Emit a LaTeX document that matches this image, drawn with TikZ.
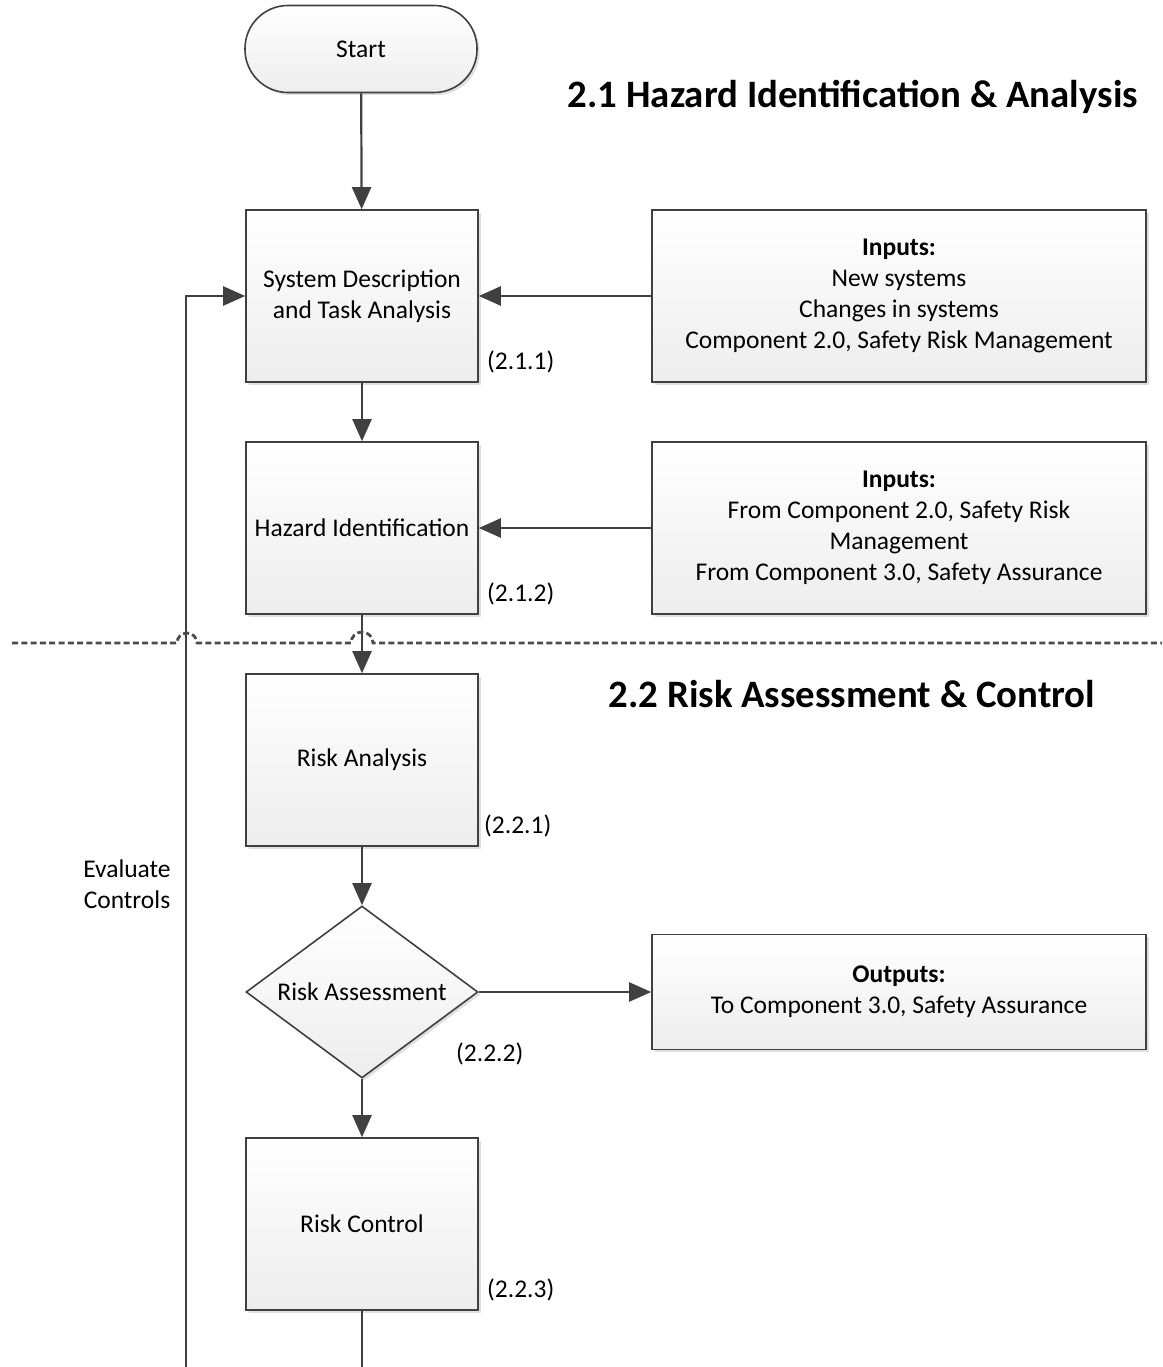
\documentclass[tikz,border=0pt]{standalone}
\usepackage{fontspec}
\setmainfont{Carlito}
\usetikzlibrary{arrows.meta,shapes.geometric,shadows}

\definecolor{linegray}{HTML}{404040}
\definecolor{boxgray}{HTML}{EDEDED}
\definecolor{dotgray}{HTML}{4A4A4A}

\tikzset{
  boxbase/.style={draw=linegray, line width=1.6pt, top color=white, bottom color=boxgray,
    drop shadow={shadow xshift=2.5pt, shadow yshift=-2.5pt, opacity=0.25},
    align=center, inner sep=2pt, font=\fontsize{25.5}{31}\selectfont},
  stepbox/.style={boxbase, minimum width=232pt, minimum height=172pt},
  inbox/.style={boxbase, minimum width=494pt, minimum height=172pt},
  terminal/.style={boxbase, rounded corners=43pt, minimum width=232pt, minimum height=87pt},
  decision/.style={boxbase, diamond, aspect=1.35, inner sep=0pt, minimum width=232pt, minimum height=172pt},
  tag/.style={inner sep=0pt, font=\fontsize{25.5}{31}\selectfont},
  heading/.style={inner sep=0pt, font=\fontsize{38.8}{46}\selectfont\bfseries},
  flow/.style={draw=linegray, line width=2.2pt, -{Triangle[length=22pt,width=19pt]}},
  plain/.style={draw=linegray, line width=2.2pt},
  sepline/.style={draw=dotgray, line width=2.8pt, dash pattern=on 6pt off 3.3pt}
}

\begin{document}
\begin{tikzpicture}[x=1pt,y=1pt,yscale=-1]
\useasboundingbox (0,0) rectangle (1162,1367);

% Section titles
\node[heading] (title21) at (853,97) {2.1 Hazard Identification \& Analysis};
\node[heading] (title22) at (852,694) {2.2 Risk Assessment \& Control};

% Flow steps
\node[terminal] (start) at (361,49) {Start};
\node[stepbox] (sysdesc) at (362,296) {System Description\\and Task Analysis};
\node[stepbox] (hazid) at (362,528) {Hazard Identification};
\node[stepbox] (riskan) at (362,760) {Risk Analysis};
\node[decision] (riskas) at (362,992) {Risk Assessment};
\node[stepbox] (riskctl) at (362,1224) {Risk Control};

% Inputs and outputs
\node[inbox] (inputsA) at (899,296) {\textbf{Inputs:}\\New systems\\Changes in systems\\Component 2.0, Safety Risk Management};
\node[inbox] (inputsB) at (899,528) {\textbf{Inputs:}\\From Component 2.0, Safety Risk\\Management\\From Component 3.0, Safety Assurance};
\node[inbox, minimum height=115pt] (outputs) at (899,992) {\textbf{Outputs:}\\To Component 3.0, Safety Assurance};

% Step numbers
\node[tag, anchor=west] (n211) at (487,362) {(2.1.1)};
\node[tag, anchor=west] (n212) at (487,594) {(2.1.2)};
\node[tag, anchor=west] (n221) at (484,826) {(2.2.1)};
\node[tag, anchor=west] (n222) at (456,1054) {(2.2.2)};
\node[tag, anchor=west] (n223) at (487,1290) {(2.2.3)};

% Loop label
\node[tag, align=center] (evalctl) at (127,884) {Evaluate\\Controls};

% Free ends at the bottom edge
\coordinate (loopend) at (186,1367);
\coordinate (ctlend) at (362,1367);

% Connections
\draw[flow] (start) -- (sysdesc);
\draw[flow] (sysdesc) -- (hazid);
\draw[flow] (hazid) -- (riskan);
\draw[flow] (riskan) -- (riskas);
\draw[flow] (riskas) -- (riskctl);
\draw[flow] (inputsA) -- (sysdesc);
\draw[flow] (inputsB) -- (hazid);
\draw[flow] (riskas) -- (outputs);
\draw[plain] (riskctl) -- (ctlend);
\draw[flow] (loopend) |- (sysdesc.west);

% Section divider with hops
\draw[sepline] (12,643) -- (177,643) arc[start angle=180, end angle=360, radius=10]
  -- (351,643) arc[start angle=180, end angle=360, radius=11] -- (1162,643);

\end{tikzpicture}
\end{document}
